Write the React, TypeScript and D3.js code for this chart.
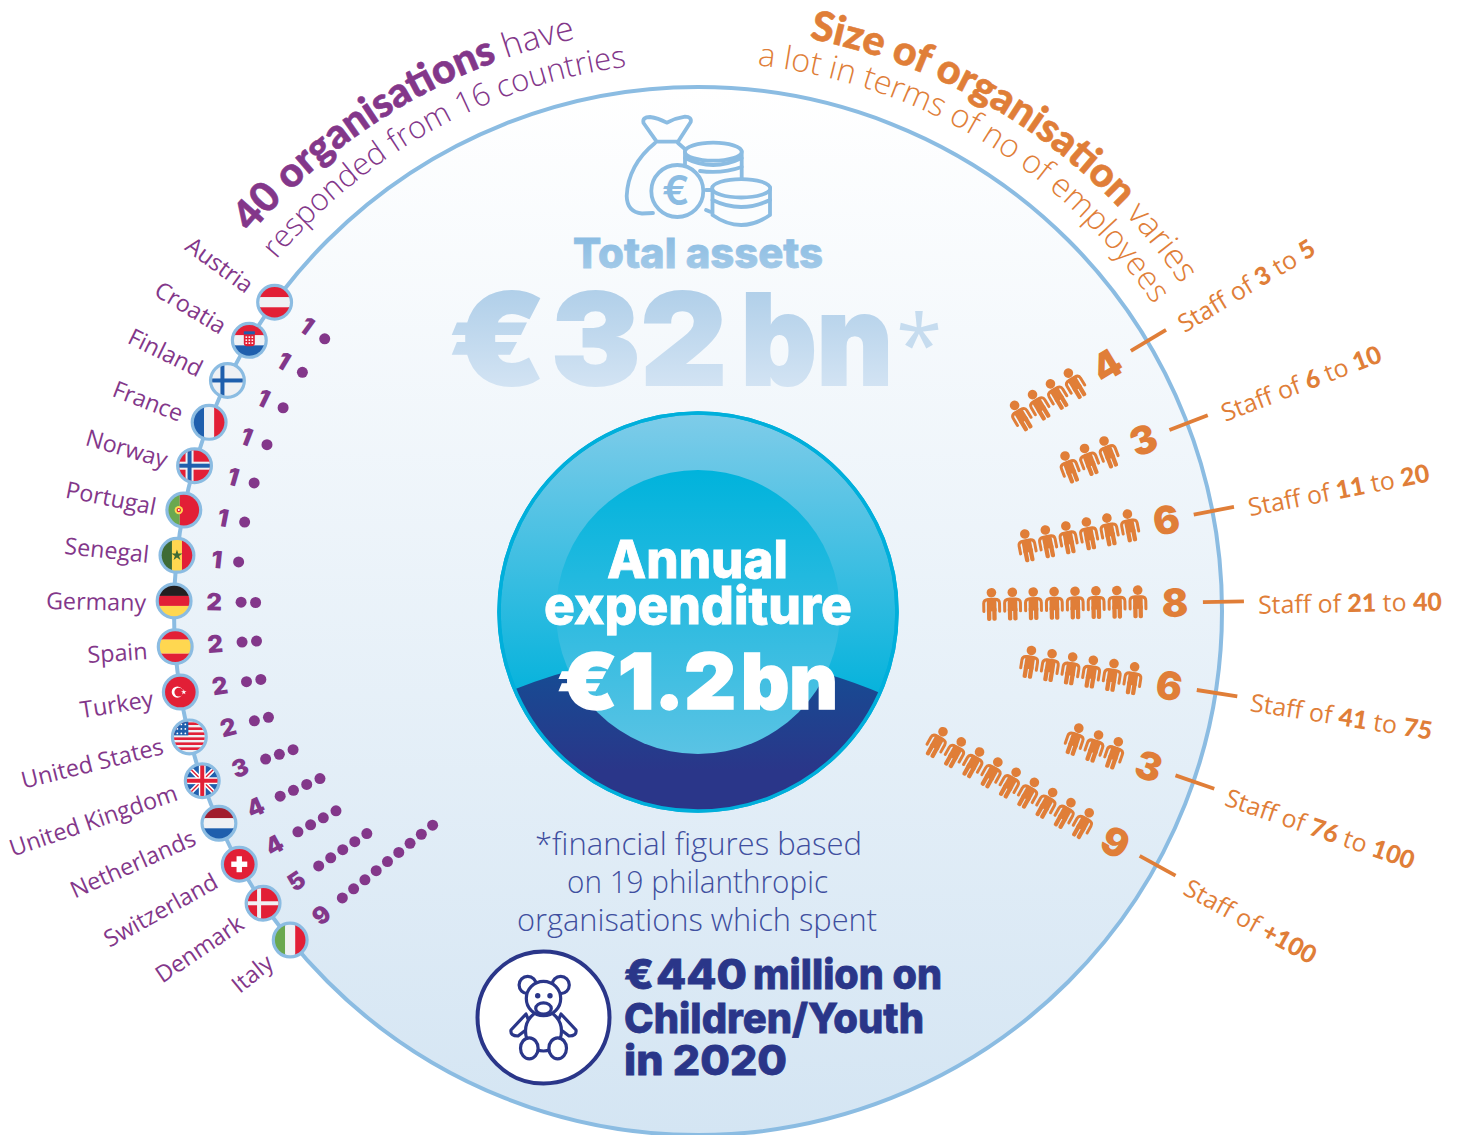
import React from "react";
import * as d3 from "d3";

const countries = ["Austria","Croatia","Finland","France","Norway","Portugal","Senegal","Germany","Spain","Turkey","United States","United Kingdom","Netherlands","Switzerland","Denmark","Italy"];
const orgCounts = [1,1,1,1,1,1,1,2,2,2,2,3,4,4,5,9];
const staffLow = ["3","6","11","21","41","76"];
const staffHigh = ["5","10","20","40","75","100"];
const staffBands = ["3 to 5","6 to 10","11 to 20","21 to 40","41 to 75","76 to 100","+100"];
const staffCounts = [4,3,6,8,6,3,9];

const W = 1457, H = 1135, CX = 698, CY = 611, R = 524;
const PURPLE = "#83378a", ORANGE = "#e07e38", SKY = "#8bbce2", NAVY = "#2a3689";
const RED = "#e21f36", WHITE = "#eff1f4", BLUE = "#1f5fad", YEL = "#ffd750", GRN = "#6aa84f";
const LIGHT = '"Open Sans", sans-serif';
const BLACK = 'Inter, sans-serif';
const BOLD = 'Lato, sans-serif';

const countryAngle = d3.scaleLinear().domain([0, countries.length - 1]).range([36.1, -38.9]);
const staffAngle = d3.scaleLinear().domain([0, staffBands.length - 1]).range([31, -29]);
const rad = (d: number) => d * Math.PI / 180;
const leftT = (r: number, a: number) => `translate(${CX - r * Math.cos(rad(a))},${CY - r * Math.sin(rad(a))}) rotate(${a})`;
const rightT = (r: number, a: number) => `translate(${CX + r * Math.cos(rad(a))},${CY - r * Math.sin(rad(a))}) rotate(${-a})`;

function arcPath(r: number, from: number, to: number) {
  const p = d3.path();
  p.arc(CX, CY, r, rad(from - 90), rad(to - 90), false);
  return p.toString();
}

const Rects = ({ rows }: { rows: [number, number, string][] }) => <>{rows.map(([y, h, c], i) => <rect key={i} x={-16} y={y} width={32} height={h} fill={c} />)}</>;
const Cols = ({ cols }: { cols: [number, number, string][] }) => <>{cols.map(([x, w, c], i) => <rect key={i} x={x} y={-16} width={w} height={32} fill={c} />)}</>;

function Flag({ name }: { name: string }) {
  switch (name) {
    case "Austria": return <Rects rows={[[-16, 11, RED], [-5, 10, WHITE], [5, 11, RED]]} />;
    case "Croatia": return <g><Rects rows={[[-16, 11, RED], [-5, 10, WHITE], [5, 11, BLUE]]} /><rect x={-5.5} y={-8} width={11} height={14} fill={RED} rx={3} /><rect x={-5.5} y={-9} width={11} height={3} fill={BLUE} />{[-4, -1, 2].map(y => [-3, 0, 3].map(x => <rect key={x + "," + y} x={x - 0.8} y={y} width={1.6} height={1.6} fill="#fff" />))}</g>;
    case "Finland": return <g><rect x={-16} y={-16} width={32} height={32} fill={WHITE} /><rect x={-7} y={-16} width={4} height={32} fill={BLUE} /><rect x={-16} y={-2} width={32} height={4} fill={BLUE} /></g>;
    case "France": return <Cols cols={[[-16, 11, BLUE], [-5, 10, WHITE], [5, 11, RED]]} />;
    case "Norway": return <g><rect x={-16} y={-16} width={32} height={32} fill={RED} /><rect x={-9} y={-16} width={8} height={32} fill={WHITE} /><rect x={-16} y={-4} width={32} height={8} fill={WHITE} /><rect x={-7} y={-16} width={4} height={32} fill={BLUE} /><rect x={-16} y={-2} width={32} height={4} fill={BLUE} /></g>;
    case "Portugal": return <g><Cols cols={[[-16, 12, GRN], [-4, 20, RED]]} /><circle cx={-5} cy={0} r={4.2} fill={YEL} /><circle cx={-5} cy={0} r={2.2} fill={RED} /><circle cx={-5} cy={0} r={1} fill="#fff" /></g>;
    case "Senegal": return <g><Cols cols={[[-16, 11, "#3f6b35"], [-5, 10, YEL], [5, 11, RED]]} /><path d={d3.symbol(d3.symbolStar, 38)() || ""} fill="#3f6b35" /></g>;
    case "Germany": return <Rects rows={[[-16, 11, "#231f20"], [-5, 10, RED], [5, 11, YEL]]} />;
    case "Spain": return <Rects rows={[[-16, 9, RED], [-7, 14, YEL], [7, 9, RED]]} />;
    case "Turkey": return <g><rect x={-16} y={-16} width={32} height={32} fill={RED} /><circle cx={-3} cy={0} r={5.6} fill="#fff" /><circle cx={-1.5} cy={0} r={4.4} fill={RED} /><path transform="translate(3.5,0)" d={d3.symbol(d3.symbolStar, 9)() || ""} fill="#fff" /></g>;
    case "United States": return <g><rect x={-16} y={-16} width={32} height={32} fill={WHITE} />{[-14.5, -9.5, -4.5, 0.5, 5.5, 10.5].map(y => <rect key={y} x={-16} y={y} width={32} height={2.6} fill={RED} />)}<rect x={-16} y={-16} width={15} height={14.5} fill={BLUE} />{[-12.5, -8, -3.5].map(y => [-12, -8, -4].map(x => <circle key={x + "," + y} cx={x} cy={y} r={0.9} fill="#fff" />))}</g>;
    case "United Kingdom": return <g><rect x={-16} y={-16} width={32} height={32} fill={BLUE} /><path d="M-16,-16L16,16M16,-16L-16,16" stroke="#fff" strokeWidth={4.5} /><path d="M-16,-16L16,16M16,-16L-16,16" stroke={RED} strokeWidth={1.4} /><rect x={-3.4} y={-16} width={6.8} height={32} fill="#fff" /><rect x={-16} y={-3.4} width={32} height={6.8} fill="#fff" /><rect x={-2} y={-16} width={4} height={32} fill={RED} /><rect x={-16} y={-2} width={32} height={4} fill={RED} /></g>;
    case "Netherlands": return <Rects rows={[[-16, 11, "#a11d2d"], [-5, 10, WHITE], [5, 11, BLUE]]} />;
    case "Switzerland": return <g><rect x={-16} y={-16} width={32} height={32} fill={RED} /><rect x={-2.7} y={-8} width={5.4} height={16} fill="#fff" /><rect x={-8} y={-2.7} width={16} height={5.4} fill="#fff" /></g>;
    case "Denmark": return <g><rect x={-16} y={-16} width={32} height={32} fill={RED} /><rect x={-6} y={-16} width={4} height={32} fill={WHITE} /><rect x={-16} y={-2} width={32} height={4} fill={WHITE} /></g>;
    default: return <Cols cols={[[-16, 11, GRN], [-5, 10, WHITE], [5, 11, RED]]} />;
  }
}

function Person() {
  return (
    <g fill={ORANGE} stroke="none" transform="translate(0,-1.5)">
      <circle cx={0} cy={-11.7} r={4.8} />
      <path d="M-7.9,7 L-7.9,-1 Q-7.9,-5 -3,-5 L3,-5 Q7.9,-5 7.9,-1 L7.9,7" fill="none" stroke={ORANGE} strokeWidth={3} strokeLinecap="round" />
      <rect x={-4.8} y={-6} width={9.6} height={13} />
      <rect x={-4.8} y={3} width={4.3} height={13.5} rx={1.8} />
      <rect x={0.5} y={3} width={4.3} height={13.5} rx={1.8} />
    </g>
  );
}

function MoneyBag() {
  return (
    <g fill="none" stroke={SKY} strokeWidth={3.8} strokeLinejoin="round" strokeLinecap="round">
      <path d="M656.7,141.7 L643.5,123 Q642,117 650,117 Q658,118 666.7,122.7 Q676,118 685,116.7 Q692,117 690.7,122 L678,141.7 Z" />
      <path d="M655,143 Q628,165 626.7,196 Q627,212 642,213.5 L653,213" />
      <path d="M678,143 L686,150" />
      <path d="M685,151 L685,166 M741.7,151 L741.7,179" />
      <ellipse cx={713.3} cy={151.7} rx={28.4} ry={9} fill="#fcfdfe" />
      <path d="M685,158 Q713,172 741.7,158 M700,171 Q722,174 741.7,167" />
      <path d="M706,190 L712.5,190 M706,210 Q712,213 714,212" />
      <circle cx={677.3} cy={191} r={26} fill="#fbfdfe" />
      <path d="M712.5,187 L712.5,215 Q741,235 770,215 L770,188" fill="#fbfdfe" />
      <ellipse cx={741.2} cy={188.3} rx={29} ry={9.2} fill="#fbfdfe" />
      <path d="M712.5,200 Q741,214 770,200" />
      <text x={676} y={205} fontFamily={BLACK} fontSize={41} fontWeight={600} textAnchor="middle" fill={SKY} stroke="none">€</text>
    </g>
  );
}

function Bear() {
  return (
    <g fill="#fff" stroke={NAVY} strokeWidth={3.2} strokeLinejoin="round">
      <circle cx={527.7} cy={985} r={8.6} />
      <circle cx={560.7} cy={985} r={8.6} />
      <path d="M526,1014 L511,1030 Q510,1036 518,1036 L531,1026 Z" />
      <path d="M561,1014 L576,1030 Q577,1036 569,1036 L556,1026 Z" />
      <ellipse cx={543.5} cy={1031} rx={18} ry={20} />
      <ellipse cx={529.3} cy={1048.3} rx={8.8} ry={10.5} />
      <ellipse cx={557.7} cy={1048.3} rx={8.8} ry={10.5} />
      <circle cx={543.5} cy={998.5} r={17.2} />
      <ellipse cx={543.5} cy={1008.5} rx={7.8} ry={5.6} />
      <circle cx={537.7} cy={995.7} r={2.7} fill={NAVY} stroke="none" />
      <circle cx={550} cy={995.7} r={2.7} fill={NAVY} stroke="none" />
    </g>
  );
}

export default function App() {
  return (
    <svg width={W} height={H} viewBox={`0 0 ${W} ${H}`} style={{ position: "absolute", left: 0, top: 0, display: "block", background: "#fff" }}>
      <defs>
        <linearGradient id="bg" x1="0" y1="0" x2="0" y2="1"><stop offset="0" stopColor="#ffffff" /><stop offset="1" stopColor="#d4e5f3" /></linearGradient>
        <linearGradient id="ring" x1="0" y1="0" x2="0" y2="1"><stop offset="0" stopColor="#7fcce9" /><stop offset="0.7" stopColor="#07b3dc" /></linearGradient>
        <linearGradient id="inner" x1="0" y1="0" x2="0" y2="1"><stop offset="0" stopColor="#00b3dc" /><stop offset="1" stopColor="#5ac3e4" /></linearGradient>
        <linearGradient id="dark" x1="0" y1="0" x2="0" y2="1"><stop offset="0" stopColor="#134f95" /><stop offset="0.7" stopColor="#2a3689" /></linearGradient>
        <linearGradient id="big" gradientUnits="userSpaceOnUse" x1="0" y1="288" x2="0" y2="386"><stop offset="0" stopColor="#b0cfe9" /><stop offset="1" stopColor="#d2e3f3" /></linearGradient>
        <linearGradient id="tot" gradientUnits="userSpaceOnUse" x1="0" y1="236" x2="0" y2="270"><stop offset="0" stopColor="#8bbce2" /><stop offset="1" stopColor="#a3cae8" /></linearGradient>
        <clipPath id="flagClip"><circle r={15.3} /></clipPath>
        <clipPath id="outerClip"><circle cx={698} cy={612} r={199} /></clipPath>
        <path id="a1" d={arcPath(585, -49.8, 0)} />
        <path id="a2" d={arcPath(549, -50.2, 0)} />
        <path id="a3" d={arcPath(583, 11, 70)} />
        <path id="a4" d={arcPath(549, 6.2, 70)} />
      </defs>

      <circle cx={CX} cy={CY} r={R} fill="url(#bg)" stroke={SKY} strokeWidth={4} />

      {/* arc headings */}
      <text fill={PURPLE} fontFamily={LIGHT} fontSize={34} fontWeight={300}>
        <textPath href="#a1"><tspan fontFamily={BOLD} fontWeight={900} fontSize={41} stroke={PURPLE} strokeWidth={0.6}>40 organisations</tspan> have</textPath>
      </text>
      <text fill={PURPLE} fontFamily={LIGHT} fontSize={31} fontWeight={300}><textPath href="#a2">responded from 16 countries</textPath></text>
      <text fill={ORANGE} fontFamily={LIGHT} fontSize={34} fontWeight={300}>
        <textPath href="#a3"><tspan fontFamily={BOLD} fontWeight={900} fontSize={41} stroke={ORANGE} strokeWidth={0.6}>Size of organisation</tspan> varies</textPath>
      </text>
      <text fill={ORANGE} fontFamily={LIGHT} fontSize={32.4} fontWeight={300}><textPath href="#a4">a lot in terms of no of employees</textPath></text>

      {/* countries */}
      {countries.map((c, i) => {
        const a = countryAngle(i);
        const n = orgCounts[i];
        const first = n === 1 ? 462 : 457;
        return (
          <g key={c}>
            <text transform={leftT(552, a)} dy="0.45em" textAnchor="end" fontFamily={LIGHT} fontSize={23.3} fontWeight={400} fill={PURPLE}>{c}</text>
            <g transform={leftT(R, a)}>
              <g transform={`rotate(${-a})`}>
                <circle r={16.5} fill="#fff" stroke={SKY} strokeWidth={4} />
                <g clipPath="url(#flagClip)"><Flag name={c} /></g>
              </g>
            </g>
            <text transform={leftT(484, a)} dy="0.36em" textAnchor="middle" fontFamily={BLACK} fontSize={24} fontWeight={900} fill={PURPLE}>{n}</text>
            {d3.range(n).map(k => {
              const r = first - k * 14.5;
              return <circle key={k} cx={CX - r * Math.cos(rad(a))} cy={CY - r * Math.sin(rad(a))} r={5.5} fill={PURPLE} />;
            })}
          </g>
        );
      })}

      {/* staff rows */}
      {staffBands.map((b, i) => {
        const a = staffAngle(i);
        const n = staffCounts[i];
        return (
          <g key={b}>
            <g transform={rightT(525.5, a)}><rect x={-20.5} y={-1.9} width={41} height={3.8} fill={ORANGE} /></g>
            <text transform={rightT(477, a)} dy="0.36em" textAnchor="middle" fontFamily={BLACK} fontSize={39} fontWeight={900} fill={ORANGE}>{n}</text>
            {d3.range(n).map(k => <g key={k} transform={rightT(440 - k * 20.9, a)}><Person /></g>)}
            <text transform={rightT(560, a)} dy="0.5em" fontFamily={LIGHT} fontSize={24.9} fontWeight={400} fill={ORANGE}>
              {i < staffLow.length
                ? <>Staff of <tspan fontFamily={BOLD} fontWeight={900}>{staffLow[i]}</tspan> to <tspan fontFamily={BOLD} fontWeight={900}>{staffHigh[i]}</tspan></>
                : <>Staff of <tspan fontFamily={BOLD} fontWeight={900}>{b}</tspan></>}
            </text>
          </g>
        );
      })}

      <MoneyBag />
      <text x={573} y={268} textLength={250} lengthAdjust="spacingAndGlyphs" fontFamily={BLACK} fontWeight={800} fontSize={41} fill="url(#tot)" stroke="url(#tot)" strokeWidth={0.8}>Total assets</text>
      <g fontFamily={BLACK} fontWeight={900} fontSize={127} fill="url(#big)" stroke="url(#big)" strokeWidth={2}>
        <text x={449} y={385} textLength={97} lengthAdjust="spacingAndGlyphs">€</text>
        <text x={551} y={385} textLength={176} lengthAdjust="spacingAndGlyphs">32</text>
        <text x={741} y={385} textLength={152} lengthAdjust="spacingAndGlyphs">bn</text>
      </g>
      <text x={896} y={375} fontFamily={LIGHT} fontWeight={400} fontSize={84} fill="#c6dcef">*</text>

      {/* centre disc */}
      <circle cx={698} cy={612} r={199} fill="url(#ring)" stroke="#00afdb" strokeWidth={3.5} />
      <path clipPath="url(#outerClip)" d="M510,691 Q698,615 885,695 L885,820 L510,820 Z" fill="url(#dark)" />
      <circle cx={698} cy={612} r={199} fill="none" stroke="#00afdb" strokeWidth={3.5} />
      <circle cx={698} cy={612} r={142} fill="url(#inner)" />
      <g fontFamily={BLACK} fontWeight={800} fill="#fff" stroke="#fff" strokeWidth={0.8}>
        <text x={607} y={578} textLength={181} lengthAdjust="spacingAndGlyphs" fontSize={52}>Annual</text>
        <text x={544} y={624} textLength={308} lengthAdjust="spacingAndGlyphs" fontSize={52}>expenditure</text>
        <g fontWeight={900} fontSize={77} strokeWidth={1.5}>
          <text x={557} y={709} textLength={61} lengthAdjust="spacingAndGlyphs">€</text>
          <text x={618} y={709} textLength={118} lengthAdjust="spacingAndGlyphs">1.2</text>
          <text x={741} y={709} textLength={97} lengthAdjust="spacingAndGlyphs">bn</text>
        </g>
      </g>

      {/* footnote */}
      <g fontFamily={LIGHT} fontWeight={300} fontSize={32} fill="#3f4f9f">
        <text x={535} y={855} textLength={327} lengthAdjust="spacingAndGlyphs">*financial figures based</text>
        <text x={567} y={893} textLength={261} lengthAdjust="spacingAndGlyphs">on 19 philanthropic</text>
        <text x={517} y={931} textLength={360} lengthAdjust="spacingAndGlyphs">organisations which spent</text>
      </g>

      <circle cx={543.5} cy={1017.5} r={66} fill="#fff" stroke={NAVY} strokeWidth={4} />
      <Bear />
      <g fontFamily={BLACK} fontWeight={800} fontSize={41} fill={NAVY} stroke={NAVY} strokeWidth={0.8}>
        <text x={624} y={989} textLength={30} lengthAdjust="spacingAndGlyphs">€</text>
        <text x={656} y={989} textLength={91} lengthAdjust="spacingAndGlyphs">440</text>
        <text x={753} y={989} textLength={189} lengthAdjust="spacingAndGlyphs">million on</text>
        <text x={624} y={1033} textLength={300} lengthAdjust="spacingAndGlyphs">Children/Youth</text>
        <text x={624} y={1075} textLength={163} lengthAdjust="spacingAndGlyphs">in 2020</text>
      </g>
    </svg>
  );
}
